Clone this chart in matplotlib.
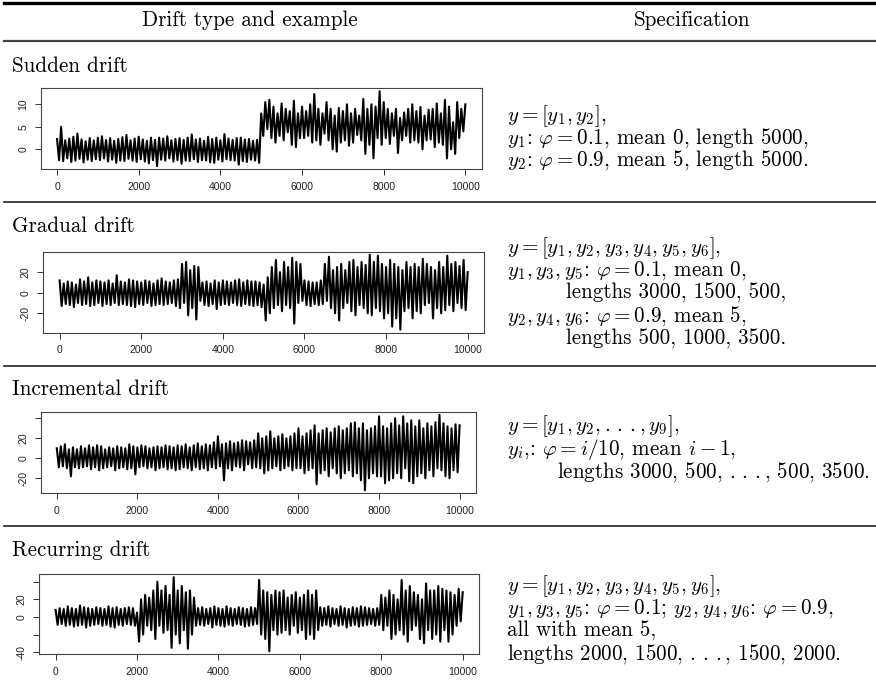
import numpy as np
import matplotlib.pyplot as plt
from matplotlib.lines import Line2D

# trace: upper extremes at t = 0, 100, ..., 10000
# and lower extremes at t = 50, 150, ..., 9950
sudden_hi = [2.3, 5.0, 2.0, 2.4, 2.8, 3.5, 2.2, 1.8, 2.5, 2.0,
             2.6, 2.9, 2.1, 2.5, 1.9, 2.3, 2.7, 3.2, 2.0, 2.4,
             2.8, 2.2, 1.9, 2.6, 2.1, 2.6, 2.4, 2.9, 2.0, 2.3,
             2.5, 2.1, 2.6, 3.3, 2.2, 2.4, 1.9, 2.8, 2.3, 2.6,
             2.0, 3.4, 2.4, 2.1, 2.5, 2.6, 2.2, 2.3, 1.9, 2.1,
             8.0, 10.5, 11.0, 9.5, 8.0, 10.2, 9.0, 8.5, 10.8, 8.0,
             9.5, 8.5, 10.0, 12.3, 9.0, 8.0, 10.5, 9.0, 7.5, 9.2,
             8.5, 10.0, 8.0, 9.0, 7.5, 11.2, 9.0, 10.0, 9.5, 12.9,
             10.5, 9.0, 8.0, 9.0, 7.0, 8.2, 9.0, 10.0, 8.5, 9.4,
             7.5, 8.8, 9.0, 10.2, 8.0, 11.0, 9.5, 6.0, 10.5, 9.0, 10.0]
sudden_lo = [-2.4, -2.6, -2.0, -2.8, -2.5, -2.1, -2.9, -2.3, -2.6, -2.2,
             -2.4, -2.0, -2.7, -2.3, -3.0, -2.5, -2.6, -2.1, -2.5, -2.8,
             -2.2, -2.7, -3.1, -2.4, -3.7, -2.3, -2.5, -2.0, -2.7, -2.4,
             -3.2, -2.5, -2.6, -2.2, -2.8, -2.4, -2.5, -2.9, -3.0, -2.3,
             -2.7, -2.2, -2.4, -2.5, -3.4, -2.6, -2.8, -2.3, -2.5, -3.0,
             3.0, 4.5, 2.5, 1.5, 3.0, 2.0, 3.8, 1.0, 0.5, 2.5,
             2.5, 3.0, 1.5, 2.0, 1.0, 3.5, 2.0, 0.0, -0.5, 1.5,
             2.0, 0.8, 1.5, 3.2, 2.0, -1.0, 1.0, -2.0, 2.5, 1.0,
             2.5, 1.2, 3.0, -0.8, 2.0, 3.0, 1.5, 2.0, 1.5, 0.0,
             2.0, 2.2, 0.5, 1.5, 1.0, -2.0, 0.0, -1.0, 2.5, 4.0]

gradual_hi = [12, 9, 11, 10, 8, 13, 11, 15, 10, 12,
              11, 10, 12, 9, 17, 11, 10, 13, 12, 11,
              10, 12, 11, 9, 12, 14, 11, 10, 12, 13,
              28, 30, 22, 26, 25,
              10, 11, 9, 12, 10, 12, 11, 10, 12, 13, 10, 12, 11, 11, 10,
              8, 15, 25, 32, 20, 30, 25, 34, 30, 28,
              12, 11, 10, 10, 12,
              28, 35, 22, 25, 28, 22, 30, 32, 25, 30, 27, 37, 30, 36, 28, 25, 32, 28,
              25, 22, 30, 25, 28, 25, 33, 28, 25, 22, 30, 25, 36, 28, 30, 26, 32, 20]
gradual_lo = [-13, -11, -12, -14, -10, -12, -11, -13, -12, -10,
              -13, -11, -12, -10, -12, -11, -12, -13, -14, -11,
              -12, -10, -13, -12, -11, -12, -11, -10, -13, -15,
              -10, -22, -15, -26, -8,
              -12, -13, -11, -16, -12, -11, -12, -10, -12, -13, -11, -12, -13, -12, -14,
              -27, -20, -15, -12, -18, -12, -15, -30, -10, -8,
              -12, -13, -11, -12, -11,
              -8, -15, -20, -27, -15, -10, -18, -22, -12, -15, -20, -22, -15, -18, -25, -20, -33,
              -25, -36, -18, -15, -25, -18, -20, -12, -10, -25, -15, -20, -17, -12, -18, -10, -15, -17]

incremental_hi = [10, 12, 14, 9, 11, 9, 12, 10, 13, 11,
                  13, 12, 9, 11, 10, 12, 11, 10, 14, 12,
                  11, 13, 12, 10, 11, 12, 11, 13, 12, 11,
                  13, 12, 14, 11, 13, 15, 12, 14, 13, 16,
                  22, 14, 15, 17, 15, 16, 18, 17, 16, 18,
                  25, 20, 22, 27, 20, 22, 24, 20, 22, 25,
                  30, 22, 25, 28, 33, 25, 28, 30, 26, 30,
                  32, 28, 30, 35, 36, 30, 35, 28, 30, 32,
                  42, 32, 30, 35, 40, 33, 42, 35, 38, 32,
                  38, 30, 35, 32, 36, 43.6, 35, 32, 30, 34, 33]
incremental_lo = [-9, -8, -10, -18, -9, -10, -9, -8, -11, -9,
                  -12, -10, -9, -8, -12, -10, -9, -11, -10, -16,
                  -9, -8, -10, -9, -12, -10, -9, -11, -10, -12,
                  -11, -9, -10, -12, -9, -11, -10, -12, -9, -10,
                  -8, -22, -10, -12, -8, -9, -12, -6, -10, -9,
                  -10, -15, -12, -10, -8, -12, -10, -8, -12, -10,
                  -10, -15, -12, -10, -26, -15, -12, -18, -10, -15,
                  -20, -15, -12, -18, -15, -22, -32, -20, -15, -18,
                  -18, -25, -22, -20, -15, -20, -10, -23, -25, -18,
                  -15, -20, -12, -18, -10, -12, -18, -20, -12, -14]

recurring_hi = [8, 10, 9, 12, 10, 9, 13, 11, 10, 9, 11, 10, 9, 12, 10, 11, 9, 10, 11, 10,
                5, 20, 25, 22, 30, 40, 30, 35, 25, 45, 30, 35, 28, 30, 22,
                10, 11, 9, 10, 12, 10, 9, 12, 10, 9, 11, 10, 9, 11, 10,
                42, 30, 28, 25, 30, 28, 30, 22, 25, 28, 22, 25, 30, 25, 30,
                11, 10, 12, 10, 9, 12, 10, 9, 11, 10, 12, 11, 10, 9, 10,
                25, 22, 30, 25, 20, 42, 30, 35, 28, 25, 20, 38, 30, 30, 35, 32, 30, 28, 25, 32, 28]
recurring_lo = [-9, -8, -10, -9, -11, -10, -9, -12, -10, -9, -8, -10, -9, -11, -12, -9, -10, -8, -9, -10,
                -28, -20, -10, -15, -25, -10, -18, -15, -35, -20, -30, -15, -36, -20, -10,
                -9, -10, -8, -12, -9, -10, -11, -9, -10, -8, -9, -11, -10, -9, -8,
                -20, -25, -39, -15, -20, -18, -15, -20, -10, -18, -15, -25, -20, -25, -15,
                -10, -9, -11, -8, -10, -9, -12, -10, -9, -11, -10, -9, -8, -10, -9,
                -15, -10, -25, -20, -15, -20, -28, -15, -10, -25, -30, -15, -25, -20, -28, -15, -28, -20, -10, -5]

row_names = ["Sudden drift", "Gradual drift", "Incremental drift", "Recurring drift"]
series = [(sudden_hi, sudden_lo), (gradual_hi, gradual_lo),
          (incremental_hi, incremental_lo), (recurring_hi, recurring_lo)]
yticks = [[0, 5, 10], [-20, 0, 20], [-20, 0, 20, 40], [-40, -20, 0, 20, 40]]
ylabels = [["0", "5", "10"], ["-20", "0", "20"], ["-20", "0", "20", ""],
           ["-40", "", "0", "20", ""]]
xticks = [0, 2000, 4000, 6000, 8000, 10000]

dots = r".\,.\,."
specs = [
    [r"$y = [y_1, y_2]$,",
     r"$y_1$: $\varphi = 0.1$, mean 0, length 5000,",
     r"$y_2$: $\varphi = 0.9$, mean 5, length 5000."],
    [r"$y = [y_1, y_2, y_3, y_4, y_5, y_6]$,",
     r"$y_1, y_3, y_5$: $\varphi = 0.1$, mean 0,",
     r"lengths 3000, 1500, 500,",
     r"$y_2, y_4, y_6$: $\varphi = 0.9$, mean 5,",
     r"lengths 500, 1000, 3500."],
    [r"$y = [y_1, y_2, " + dots + r", y_9]$,",
     r"$y_i$,: $\varphi = i/10$, mean $i - 1$,",
     r"lengths 3000, 500, $" + dots + r"$, 500, 3500."],
    [r"$y = [y_1, y_2, y_3, y_4, y_5, y_6]$,",
     r"$y_1, y_3, y_5$: $\varphi = 0.1$; $y_2, y_4, y_6$: $\varphi = 0.9$,",
     r"all with mean 5,",
     r"lengths 2000, 1500, $" + dots + r"$, 1500, 2000."],
]
indents = [[0, 0, 0], [0, 0, 59, 0, 59], [0, 0, 50], [0, 0, 0, 0]]

W, H = 876, 686
plt.rcParams['mathtext.fontset'] = 'cm'
plt.rcParams['axes.unicode_minus'] = False

fig = plt.figure(figsize=(W / 100, H / 100), dpi=100)

def ftext(x, y, s, **kw):
    fig.text(x / W, 1 - y / H, s, fontfamily='cmr10', fontsize=15.2, **kw)

def rule(y, lw, color):
    fig.add_artist(Line2D([4 / W, 1], [1 - y / H] * 2, transform=fig.transFigure,
                          color=color, lw=lw))

# table rules and header
rule(2.5, 2.4, 'black')
rule(40.5, 1.6, '#444444')
for y in [201.7, 365.7, 526]:
    rule(y, 1.2, '#222222')
ftext(250, 26, "Drift type and example", ha='center', va='baseline')
ftext(692, 26, "Specification", ha='center', va='baseline')

# pixel boxes of the small plots
boxes = [(40.7, 88.3, 481.7, 169), (43.3, 251.7, 484, 332.7),
         (40.7, 411.7, 475.7, 493.3), (39.3, 574.3, 479, 654.3)]
label_y = [66, 226, 389, 550]
text_y = [[121, 144, 166], [253, 276, 299, 322, 345], [431, 455, 478],
          [591, 614, 637, 660]]

for i in range(4):
    x0, y0, x1, y1 = boxes[i]
    ax = fig.add_axes([x0 / W, 1 - y1 / H, (x1 - x0) / W, (y1 - y0) / H])
    hi = np.array(series[i][0], dtype=float)
    lo = np.array(series[i][1], dtype=float)
    t_hi = np.arange(len(hi)) * 100
    t_lo = np.arange(len(lo)) * 100 + 50
    t = np.append(np.column_stack([t_hi[:-1], t_lo]).ravel(), t_hi[-1])
    v = np.append(np.column_stack([hi[:-1], lo]).ravel(), hi[-1])
    ax.plot(t, v, color='black', lw=1.5)
    ax.margins(x=0.04, y=0.04)
    ax.set_xticks(xticks)
    ax.set_xticklabels([str(x) for x in xticks])
    ax.set_yticks(yticks[i])
    ax.set_yticklabels(ylabels[i], rotation=90, va='center')
    ax.tick_params(length=4, width=0.7, color='#333333', labelsize=7.5,
                   labelcolor='#222222', pad=5)
    for lab in ax.get_xticklabels() + ax.get_yticklabels():
        lab.set_fontfamily('Liberation Sans')
    for sp in ax.spines.values():
        sp.set_color('#444444')
        sp.set_linewidth(0.8)

    ftext(12, label_y[i], row_names[i], va='center')
    for j, s in enumerate(specs[i]):
        ftext(506.7 + indents[i][j], text_y[i][j], s, va='baseline')

fig.savefig("out.png", dpi=100)
